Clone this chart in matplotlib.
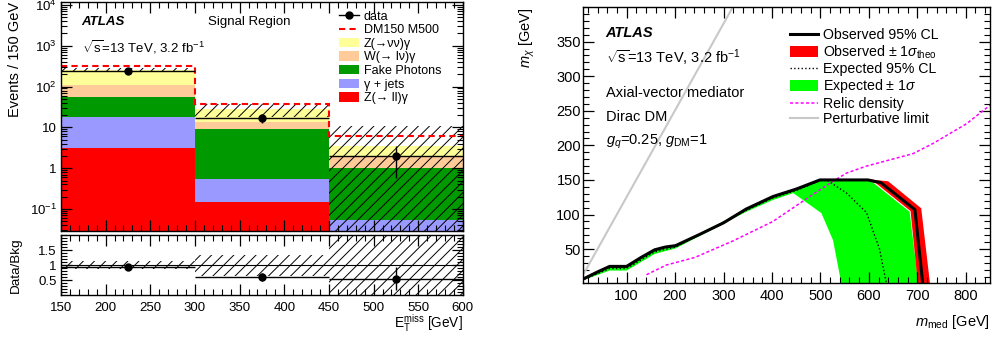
import numpy as np
import matplotlib
matplotlib.use("Agg")
import matplotlib.pyplot as plt
from matplotlib.ticker import MultipleLocator, LogLocator, FixedLocator, FixedFormatter, NullFormatter
from matplotlib.patches import Patch
from matplotlib.lines import Line2D

plt.rcParams['font.family'] = ['Liberation Sans', 'DejaVu Sans']
plt.rcParams['mathtext.fontset'] = 'custom'
plt.rcParams['mathtext.rm'] = 'Liberation Sans'
plt.rcParams['mathtext.it'] = 'Liberation Sans:italic'
plt.rcParams['mathtext.bf'] = 'Liberation Sans:bold'
plt.rcParams['hatch.linewidth'] = 0.7

# ---- left panel: signal region yields (events / 150 GeV)
bin_edges = [150, 300, 450, 600]
zll_gamma = [3.1, 0.15, 0.0]
gamma_jets = [14.8, 0.38, 0.053]
fake_photons = [37.6, 8.4, 0.95]
wlnu_gamma = [54.5, 4.4, 0.83]
znunu_gamma = [148.0, 14.6, 1.74]
bkg_unc = [0.13, 0.35, 2.0]       # relative uncertainty on total bkg
signal = [67.0, 10.0, 2.6]        # DM150 M500, stacked on bkg
data_counts = [240, 17, 2]

# ---- right panel: exclusion contours (m_med, m_chi) in GeV
obs_x = [14, 40, 65, 100, 130, 158, 180, 201, 250, 300, 347, 402, 451, 499, 598, 625, 695, 711]
obs_y = [8, 17, 25, 25, 38, 49, 53, 55, 71, 88, 108, 126, 137, 150, 150, 146, 107, 1]
exp_x = [14, 65, 100, 158, 201, 347, 402, 451, 499, 513, 554, 595, 622, 636]
exp_y = [7, 22, 22, 46, 53, 106, 124, 135, 149, 150, 131, 103, 50, 1]
exp_up_x = [14, 65, 100, 158, 201, 347, 402, 451, 499, 598, 609, 684, 702]
exp_up_y = [8, 24, 24, 48, 54, 107, 125, 136, 150, 150, 146, 104, 1]
exp_dn_x = [14, 65, 100, 158, 201, 347, 402, 444, 502, 526, 543]
exp_dn_y = [6, 19, 19, 43, 51, 104, 121, 131, 102, 63, 1]
theo_up_x = [499, 598, 640, 708, 726]
theo_up_y = [151, 151, 148, 109, 1]
theo_dn_x = [499, 598, 615, 686, 701]
theo_dn_y = [149, 149, 145, 105, 1]
relic_x = [141, 182, 241, 320, 402, 478, 526, 554, 595, 691, 733, 801, 850]
relic_y = [13, 27, 38, 62, 90, 126, 148, 160, 170, 188, 203, 231, 258]
pert_x = [10, 320]
pert_y = [12.5, 401]


def root_ticks(a, size):
    a.tick_params(which='both', direction='in', top=True, right=True, labelsize=size)
    a.tick_params(which='major', length=8, width=0.9)
    a.tick_params(which='minor', length=4, width=0.8)
    for s in a.spines.values():
        s.set_linewidth(1.0)


fig = plt.figure(figsize=(9.93, 3.43), dpi=100)
fs_l = 9.5
fs_r = 10.5

# ================= left: stacked histogram
ax = fig.add_axes([0.0614, 0.3265, 0.4048, 0.6685])
edges = np.array(bin_edges, float)
lefts = edges[:-1]
widths = np.diff(edges)
centers = lefts + widths / 2

stack = [(zll_gamma, '#ff0000', 'Z(→ ll)γ'),
         (gamma_jets, '#9999ff', 'γ + jets'),
         (fake_photons, '#009900', 'Fake Photons'),
         (wlnu_gamma, '#ffcc99', 'W(→ lν)γ'),
         (znunu_gamma, '#ffff99', 'Z(→νν)γ')]
bottom = np.full(3, 1e-3)
for vals, col, lab in stack:
    ax.bar(lefts, vals, width=widths, bottom=bottom, align='edge', color=col, linewidth=0)
    bottom = bottom + np.array(vals)
total = bottom

unc = np.array(bkg_unc)
lo = np.maximum(total * (1 - unc), 1e-3)
hi = total * (1 + unc)
ax.bar(lefts, hi - lo, width=widths, bottom=lo, align='edge', fill=False,
       hatch='///', edgecolor='k', linewidth=0)
ax.stairs(total + np.array(signal), edges, baseline=None, color='#ff0000',
          linestyle=(0, (3, 2)), lw=1.5)
data = np.array(data_counts, float)
ax.errorbar(centers, data, xerr=widths / 2, yerr=np.sqrt(data), fmt='o', color='k',
            ms=5, lw=1, capsize=0)

ax.set_xlim(150, 600)
ax.set_yscale('log')
ax.set_ylim(0.029, 1.2e4)
ax.yaxis.set_major_locator(FixedLocator([0.1, 1, 10, 100, 1000, 10000]))
ax.yaxis.set_major_formatter(FixedFormatter([r'$10^{-1}$', '1', '10', r'$10^{2}$', r'$10^{3}$', r'$10^{4}$']))
ax.yaxis.set_minor_locator(LogLocator(subs=np.arange(2, 10), numticks=20))
ax.yaxis.set_minor_formatter(NullFormatter())
ax.xaxis.set_major_locator(MultipleLocator(50))
ax.xaxis.set_minor_locator(MultipleLocator(10))
root_ticks(ax, fs_l)
ax.tick_params(axis='x', labelbottom=False)
ax.tick_params(axis='y', pad=3)
ax.set_ylabel('Events / 150 GeV', loc='top', fontsize=10.5)
ax.yaxis.set_label_coords(-0.097, 1.0)

ax.text(0.051, 0.913, 'ATLAS', transform=ax.transAxes, fontsize=fs_l, fontweight='bold',
        style='italic', va='center')
ax.text(0.053, 0.804, r'$\sqrt{\rm s}$=13 TeV, 3.2 fb$^{-1}$', transform=ax.transAxes,
        fontsize=fs_l, va='center')
ax.text(0.366, 0.913, 'Signal Region', transform=ax.transAxes, fontsize=fs_l, va='center')

handles = [Line2D([], [], color='k', marker='o', ms=5, lw=1),
           Line2D([], [], color='#ff0000', ls=(0, (3, 2)), lw=1.5)]
labels = ['data', 'DM150 M500']
for vals, col, lab in stack[::-1]:
    handles.append(Patch(facecolor=col, edgecolor='none'))
    labels.append(lab)
ax.legend(handles, labels, loc='upper left', bbox_to_anchor=(0.6915, 0.962), frameon=False,
          fontsize=9, borderpad=0, borderaxespad=0, handlelength=1.6, handleheight=0.8,
          handletextpad=0.4, labelspacing=0.12)

# ================= left: ratio panel
rax = fig.add_axes([0.0614, 0.1408, 0.4048, 0.1732])
rax.bar(lefts, 2 * unc, bottom=1 - unc, width=widths, align='edge', fill=False,
        hatch='///', edgecolor='k', linewidth=0)
rax.axhline(1, color='k', lw=0.8)
ratio = data / total
rax.errorbar(centers, ratio, xerr=widths / 2, yerr=np.sqrt(data) / total, fmt='o',
             color='k', ms=5, lw=1, capsize=0)
rax.set_xlim(150, 600)
rax.set_ylim(0.02, 2.0)
rax.yaxis.set_major_locator(FixedLocator([0.5, 1, 1.5]))
rax.yaxis.set_major_formatter(FixedFormatter(['0.5', '1', '1.5']))
rax.yaxis.set_minor_locator(MultipleLocator(0.1))
rax.xaxis.set_major_locator(MultipleLocator(50))
rax.xaxis.set_minor_locator(MultipleLocator(10))
root_ticks(rax, fs_l)
rax.tick_params(axis='x', pad=5)
rax.tick_params(axis='y', pad=3)
rax.set_ylabel('Data/Bkg', fontsize=9.7)
rax.yaxis.set_label_coords(-0.097, 0.5)
rax.set_xlabel(r'E$_{\rm T}^{\rm miss}$ [GeV]', loc='right', fontsize=9.8)
rax.xaxis.set_label_coords(1.0, -0.30)

# ================= right: exclusion plane
ax2 = fig.add_axes([0.5871, 0.1749, 0.4099, 0.8047])
ax2.fill(np.concatenate([exp_up_x, exp_dn_x[::-1]]), np.concatenate([exp_up_y, exp_dn_y[::-1]]),
         color='#00ff00', lw=0)
ax2.fill(np.concatenate([theo_up_x, theo_dn_x[::-1]]), np.concatenate([theo_up_y, theo_dn_y[::-1]]),
         color='#ff0000', lw=0)
ax2.plot(pert_x, pert_y, color='#c8c8c8', lw=1.5)
ax2.plot(relic_x, relic_y, color='#ff00ff', ls=(0, (2, 1.5)), lw=1.1)
ax2.plot(exp_x, exp_y, color='k', ls=':', lw=1.0)
ax2.plot(obs_x, obs_y, color='k', lw=2.2)

ax2.set_xlim(10, 850)
ax2.set_ylim(1, 400)
ax2.xaxis.set_major_locator(MultipleLocator(100))
ax2.xaxis.set_minor_locator(MultipleLocator(20))
ax2.yaxis.set_major_locator(FixedLocator([50, 100, 150, 200, 250, 300, 350]))
ax2.yaxis.set_minor_locator(MultipleLocator(10))
root_ticks(ax2, fs_r)
ax2.tick_params(axis='x', pad=4)
ax2.tick_params(axis='y', pad=1.5)
ax2.set_ylabel(r'$m_{\chi}$ [GeV]', loc='top', fontsize=fs_r)
ax2.yaxis.set_label_coords(-0.113, 1.0)
ax2.set_xlabel(r'$m_{\rm med}$ [GeV]', loc='right', fontsize=fs_r)
ax2.xaxis.set_label_coords(1.0, -0.109)

ax2.text(0.054, 0.906, 'ATLAS', transform=ax2.transAxes, fontsize=fs_r, fontweight='bold',
         style='italic', va='center')
ax2.text(0.056, 0.815, r'$\sqrt{\rm s}$=13 TeV, 3.2 fb$^{-1}$', transform=ax2.transAxes,
         fontsize=fs_r, va='center')
ax2.text(0.056, 0.688, 'Axial-vector mediator', transform=ax2.transAxes, fontsize=fs_r, va='center')
ax2.text(0.056, 0.601, 'Dirac DM', transform=ax2.transAxes, fontsize=fs_r, va='center')
ax2.text(0.056, 0.51, r'$g_{q}$=0.25, $g_{\rm DM}$=1', transform=ax2.transAxes, fontsize=fs_r,
         va='center')

h2 = [Line2D([], [], color='k', lw=2.2),
      Patch(facecolor='#ff0000', edgecolor='none'),
      Line2D([], [], color='k', ls=':', lw=1.0),
      Patch(facecolor='#00ff00', edgecolor='none'),
      Line2D([], [], color='#ff00ff', ls=(0, (2, 1.5)), lw=1.1),
      Line2D([], [], color='#c8c8c8', lw=1.5)]
l2 = ['Observed 95% CL', r'Observed $\pm$ 1$\sigma_{\rm theo}$', 'Expected 95% CL',
      r'Expected $\pm$ 1$\sigma$', 'Relic density', 'Perturbative limit']
ax2.legend(h2, l2, loc='upper left', bbox_to_anchor=(0.5086, 0.925), frameon=False,
           fontsize=10.2, borderpad=0, borderaxespad=0, handlelength=1.95, handleheight=0.8,
           handletextpad=0.35, labelspacing=0.1)

fig.savefig('out.png', dpi=100)
